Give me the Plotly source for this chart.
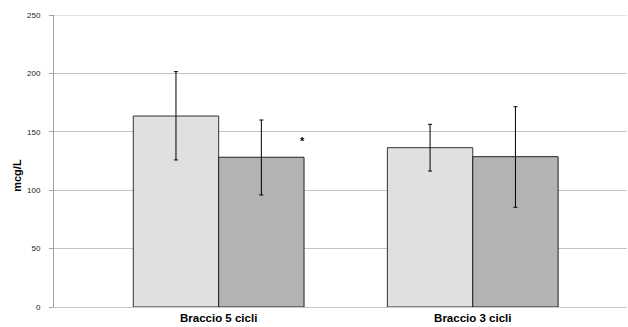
import plotly.graph_objects as go

categories = ["Braccio 5 cicli", "Braccio 3 cicli"]
series_a = [163.5, 136.4]
series_a_hi = [201.5, 156.4]
series_a_lo = [125.9, 116.4]
series_b = [128.2, 128.7]
series_b_hi = [160.1, 171.5]
series_b_lo = [95.9, 85.4]
y_ticks = [0, 50, 100, 150, 200, 250]

def err(v, hi, lo):
    return dict(type="data", symmetric=False,
                array=[h - x for h, x in zip(hi, v)],
                arrayminus=[x - l for x, l in zip(v, lo)],
                color="#000000", thickness=1, width=2)

fig = go.Figure()
fig.add_trace(go.Bar(x=categories, y=series_a, marker=dict(color="#e0e0e0", line=dict(color="#333333", width=1)),
                     error_y=err(series_a, series_a_hi, series_a_lo)))
fig.add_trace(go.Bar(x=categories, y=series_b, marker=dict(color="#b3b3b3", line=dict(color="#222222", width=1)),
                     error_y=err(series_b, series_b_hi, series_b_lo)))

fig.add_annotation(x=0.331, y=142, xref="x", yref="y", text="<b>*</b>", showarrow=False,
                   font=dict(size=11, color="#000000", family="Liberation Sans"))
fig.add_annotation(x=-0.065, y=113, xref="paper", yref="y", text="<b>mcg/L</b>", showarrow=False,
                   xanchor="center", yanchor="middle",
                   textangle=-90, font=dict(size=11, color="#000000", family="Liberation Sans"))
fig.add_shape(type="line", xref="paper", yref="y", x0=0, x1=1, y0=250, y1=250,
              line=dict(color="#c4c4c4", width=1), layer="below")

fig.update_layout(
    width=628, height=327,
    margin=dict(l=54, r=1, t=15, b=20),
    paper_bgcolor="white", plot_bgcolor="white",
    barmode="group", bargap=0.328, bargroupgap=0,
    showlegend=False,
    font=dict(family="Liberation Sans", color="#000000"),
    xaxis=dict(range=[-0.648, 1.607], showgrid=False, showline=True, linecolor="#c8c8c8", linewidth=1,
               tickfont=dict(size=11.5, family="Liberation Sans", color="#000000"),
               tickvals=categories, ticktext=["<b>" + c + "</b>" for c in categories],
               ticks="", ticklen=0),
    yaxis=dict(range=[0, 250], tickvals=y_ticks, showgrid=True, gridcolor="#c4c4c4", gridwidth=1,
               showline=True, linecolor="#a0a0a0", linewidth=1, ticks="outside", ticklen=4, tickcolor="#a0a0a0",
               ticklabelstandoff=7,
               tickfont=dict(size=8, family="Liberation Sans", color="#222222"), zeroline=False),
)

fig.write_html("out.html")
